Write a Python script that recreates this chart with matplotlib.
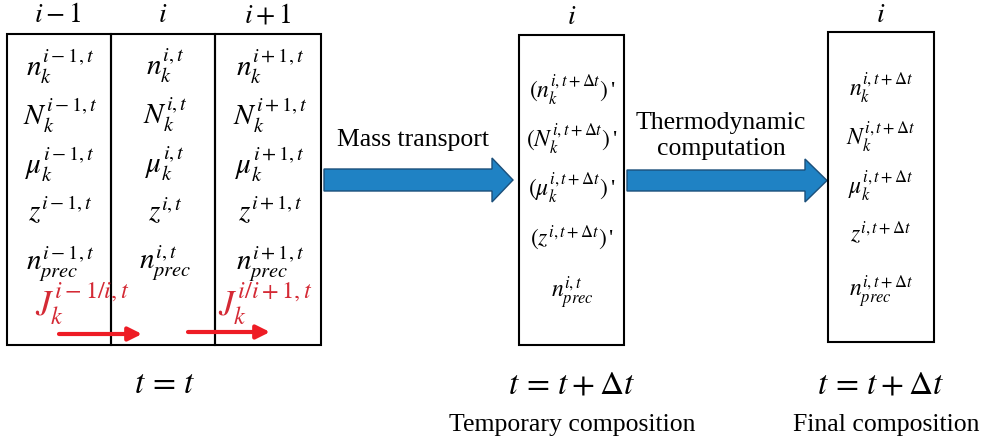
import matplotlib
matplotlib.use("Agg")
import matplotlib.pyplot as plt
from matplotlib.patches import Rectangle, Polygon

plt.rcParams['font.family'] = ['Liberation Serif', 'DejaVu Serif']
plt.rcParams['mathtext.fontset'] = 'stix'

# ---- content ----
col_headers = [r'$i-1$', r'$i$', r'$i+1$']
left_rows = [
    [r'$n_k^{i-1,t}$', r'$n_k^{i,t}$', r'$n_k^{i+1,t}$'],
    [r'$N_k^{i-1,t}$', r'$N_k^{i,t}$', r'$N_k^{i+1,t}$'],
    [r'$\mu_k^{i-1,t}$', r'$\mu_k^{i,t}$', r'$\mu_k^{i+1,t}$'],
    [r'$z^{i-1,t}$', r'$z^{i,t}$', r'$z^{i+1,t}$'],
    [r'$n_{prec}^{i-1,t}$', r'$n_{prec}^{i,t}$', r'$n_{prec}^{i+1,t}$'],
]
flux_labels = [r'$J_k^{i-1/i,t}$', r'$J_k^{i/i+1,t}$']
mid_rows = [r"$(n_k^{i,t+\Delta t})\,$'", r"$(N_k^{i,t+\Delta t})\,$'", r"$(\mu_k^{i,t+\Delta t})\,$'",
            r"$(z^{i,t+\Delta t})\,$'", r'$n_{prec}^{i,t}$']
right_rows = [r'$n_k^{i,t+\Delta t}$', r'$N_k^{i,t+\Delta t}$', r'$\mu_k^{i,t+\Delta t}$',
              r'$z^{i,t+\Delta t}$', r'$n_{prec}^{i,t+\Delta t}$']
step_labels = ['Mass transport', 'Thermodynamic\ncomputation']
time_labels = [r'$t\,=\,t$', r'$t\,=\,t+\Delta t$', r'$t\,=\,t+\Delta t$']
stage_labels = ['Temporary composition', 'Final composition']

W, H = 987, 439
fig = plt.figure(figsize=(W / 100, H / 100), dpi=100)
ax = fig.add_axes([0, 0, 1, 1])
ax.set_xlim(0, W)
ax.set_ylim(H, 0)
ax.axis('off')

lw = 1.5
# left box with three cells
for x0, x1 in [(7, 111), (111, 215), (215, 321)]:
    ax.add_patch(Rectangle((x0, 35), x1 - x0, 311, fill=False, ec='black', lw=lw))
col_x = [60, 165, 270]
for x, h in zip(col_x, col_headers):
    ax.text(x - 2, 16, h, ha='center', va='center', fontsize=20)
row_y = [66, 115, 164, 212, 263]
for y, row in zip(row_y, left_rows):
    for x, s in zip(col_x, row):
        ax.text(x, y, s, ha='center', va='center', fontsize=21)
# flux
ax.text(35, 304, flux_labels[0], ha='left', va='center', fontsize=25, color='#d42a35')
ax.text(218, 304, flux_labels[1], ha='left', va='center', fontsize=25, color='#d42a35')
for xs, xe, y in [(59, 142, 335), (188, 270, 333)]:
    ax.annotate('', xy=(xe, y), xytext=(xs, y),
                arrowprops=dict(arrowstyle='-|>', color='#ee1c25', lw=3,
                                mutation_scale=20, shrinkA=0, shrinkB=0))
ax.text(165, 385, time_labels[0], ha='center', va='center', fontsize=24)

# blue arrows
def block_arrow(x0, x1, xh, yc, bh, hh):
    pts = [(x0, yc - bh), (xh, yc - bh), (xh, yc - hh), (x1, yc),
           (xh, yc + hh), (xh, yc + bh), (x0, yc + bh)]
    ax.add_patch(Polygon(pts, closed=True, fc='#1f82c4', ec='#1b4f7a', lw=1.0))

block_arrow(324, 513, 492, 181, 11, 22)
block_arrow(627, 827, 805, 181.5, 10.5, 21.5)
ax.text(413, 140, step_labels[0], ha='center', va='center', fontsize=18.5)
ax.text(721, 136, step_labels[1], ha='center', va='center', fontsize=18.5, linespacing=1.25)

# middle box
ax.add_patch(Rectangle((519, 36), 105, 310, fill=False, ec='black', lw=lw))
ax.text(572, 17, r'$i$', ha='center', va='center', fontsize=20)
for y, s in zip([90, 139, 188, 238, 293], mid_rows):
    ax.text(572, y, s, ha='center', va='center', fontsize=17)
ax.text(572, 385, time_labels[1], ha='center', va='center', fontsize=24)
ax.text(572, 425, stage_labels[0], ha='center', va='center', fontsize=18.5)

# right box
ax.add_patch(Rectangle((828, 33), 106, 310, fill=False, ec='black', lw=lw))
ax.text(881, 15, r'$i$', ha='center', va='center', fontsize=20)
for y, s in zip([88, 137, 186, 234, 292], right_rows):
    ax.text(881, y, s, ha='center', va='center', fontsize=17)
ax.text(881, 385, time_labels[2], ha='center', va='center', fontsize=24)
ax.text(886, 425, stage_labels[1], ha='center', va='center', fontsize=18.5)

fig.savefig('out.png', dpi=100)
